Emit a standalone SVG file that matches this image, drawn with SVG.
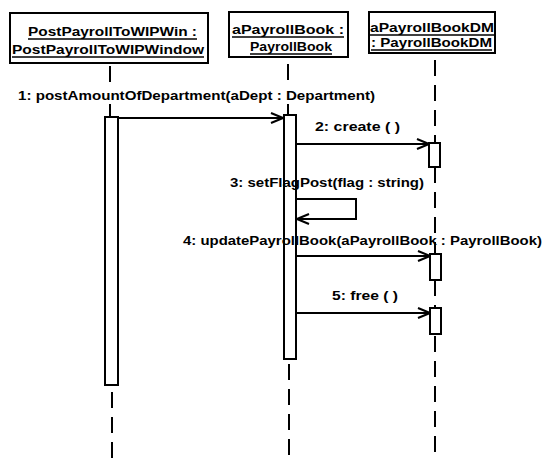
<svg xmlns="http://www.w3.org/2000/svg" width="544" height="458" viewBox="0 0 544 458">
<defs>
<style>
.box{fill:#fff;stroke:#000;stroke-width:2}
.hd{font-family:"Liberation Sans",Arial,sans-serif;font-weight:bold;font-size:12px;fill:#000}
.ul{stroke:#000;stroke-width:1.3}
.life{stroke:#000;stroke-width:2;stroke-dasharray:16 9;fill:none}
.act{fill:#fff;stroke:#000;stroke-width:2}
.msg{stroke:#000;stroke-width:2;fill:none}
.lbl{font-family:"Liberation Sans",Arial,sans-serif;font-weight:bold;font-size:13px;fill:#000}
</style>
<marker id="open" viewBox="0 0 14 12" refX="13" refY="6" markerWidth="14" markerHeight="12" markerUnits="userSpaceOnUse" orient="auto">
<path d="M1,1 L13,6 L1,11" fill="none" stroke="#000" stroke-width="2"/>
</marker>
</defs>
<rect width="544" height="458" fill="#fff"/>

<g id="n1">
<rect class="box" x="10" y="13" width="198" height="50"/>
<text class="hd" x="28" y="36" textLength="169" lengthAdjust="spacingAndGlyphs">PostPayrollToWIPWin :</text>
<line class="ul" x1="28" y1="39" x2="197" y2="39"/>
<text class="hd" x="12" y="54" textLength="192" lengthAdjust="spacingAndGlyphs">PostPayrollToWIPWindow</text>
<line class="ul" x1="12" y1="57" x2="204" y2="57"/>
</g>
<g id="n2">
<rect class="box" x="229" y="12" width="119" height="45"/>
<text class="hd" x="232" y="34" textLength="112" lengthAdjust="spacingAndGlyphs">aPayrollBook :</text>
<line class="ul" x1="232" y1="37" x2="344" y2="37"/>
<text class="hd" x="250" y="51" textLength="82" lengthAdjust="spacingAndGlyphs">PayrollBook</text>
<line class="ul" x1="250" y1="54" x2="332" y2="54"/>
</g>
<g id="n3">
<rect class="box" x="369" y="12" width="126" height="41"/>
<text class="hd" x="370" y="32" textLength="124" lengthAdjust="spacingAndGlyphs">aPayrollBookDM</text>
<line class="ul" x1="370" y1="35" x2="494" y2="35"/>
<text class="hd" x="371" y="47" textLength="121" lengthAdjust="spacingAndGlyphs">: PayrollBookDM</text>
<line class="ul" x1="371" y1="50" x2="492" y2="50"/>
</g>

<g id="act1"><rect class="act" x="105" y="117" width="13" height="268"/></g>
<g id="act2"><rect class="act" x="284" y="115" width="12" height="244"/></g>
<g id="act3a"><rect class="act" x="429" y="143" width="11" height="24"/></g>
<g id="act3b"><rect class="act" x="430" y="254" width="11" height="26"/></g>
<g id="act3c"><rect class="act" x="430" y="308" width="11" height="26"/></g>

<g id="connectors">
<line class="life" x1="110" y1="66" x2="110" y2="88"/>
<line class="life" x1="110" y1="104" x2="110" y2="117"/>
<line class="life" x1="112" y1="392" x2="112" y2="458"/>
<line class="life" x1="288" y1="64" x2="288" y2="86"/>
<line class="life" x1="288" y1="104" x2="288" y2="115"/>
<line class="life" x1="289" y1="364" x2="289" y2="458"/>
<line class="life" x1="435" y1="60" x2="435" y2="143"/>
<line class="life" x1="435" y1="167" x2="435" y2="254"/>
<line class="life" x1="435" y1="280" x2="435" y2="308"/>
<line class="life" x1="435" y1="336" x2="435" y2="458"/>

<g id="msg1"><line class="msg" x1="118" y1="118" x2="283" y2="118" marker-end="url(#open)"/>
<text class="lbl" x="18" y="100" textLength="357" lengthAdjust="spacingAndGlyphs">1: postAmountOfDepartment(aDept : Department)</text></g>
<g id="msg2"><line class="msg" x1="296" y1="144" x2="429" y2="144" marker-end="url(#open)"/>
<text class="lbl" x="315" y="131" textLength="85" lengthAdjust="spacingAndGlyphs">2: create ( )</text></g>
<g id="msg3"><polyline class="msg" points="297,199 356,199 356,219 297,219" marker-end="url(#open)"/>
<text class="lbl" x="230" y="187" textLength="194" lengthAdjust="spacingAndGlyphs">3: setFlagPost(flag : string)</text></g>
<g id="msg4"><line class="msg" x1="296" y1="256" x2="430" y2="256" marker-end="url(#open)"/>
<text class="lbl" x="183" y="245" textLength="359" lengthAdjust="spacingAndGlyphs">4: updatePayrollBook(aPayrollBook : PayrollBook)</text></g>
<g id="msg5"><line class="msg" x1="296" y1="313" x2="430" y2="313" marker-end="url(#open)"/>
<text class="lbl" x="332" y="300" textLength="66" lengthAdjust="spacingAndGlyphs">5: free ( )</text></g>
</g>
</svg>
